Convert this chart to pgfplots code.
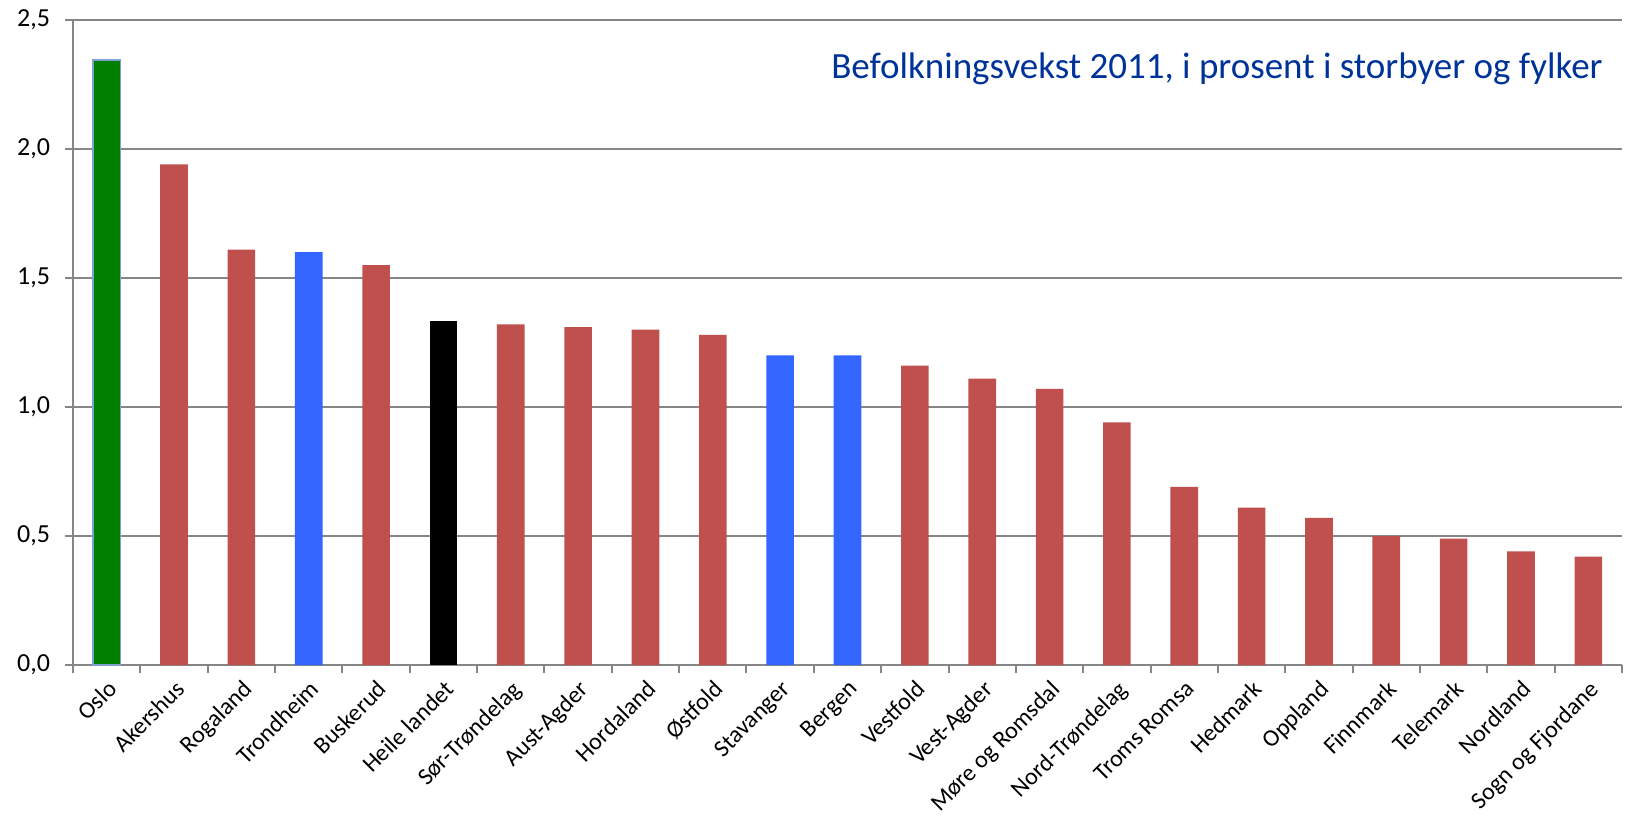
\documentclass[border=0pt]{standalone}
\usepackage{fontspec}
\setmainfont{Carlito}
\usepackage{pgfplots}
\pgfplotsset{compat=1.18}
\usetikzlibrary{calc}
\definecolor{barred}{RGB}{192,80,77}
\definecolor{barblue}{RGB}{51,102,255}
\definecolor{bargreen}{RGB}{0,128,0}
\definecolor{oslorim}{RGB}{127,160,210}
\definecolor{gridgray}{RGB}{134,134,134}
\definecolor{titleblue}{RGB}{0,51,153}

\begin{document}
\begin{tikzpicture}
\begin{axis}[
    name=ax, at={(0,0)}, anchor=south west,
    width=774.5pt, height=322.5pt, scale only axis,
    xmin=-0.5, xmax=22.5, ymin=0, ymax=2.5,
    axis lines*=left,
    axis line style={draw=gridgray, line width=1pt},
    ymajorgrids, grid style={draw=gridgray, line width=1pt},
    ytick={0,0.5,1,1.5,2,2.5},
    xtick={0,...,22},
    xticklabels={Oslo, Akershus, Rogaland, Trondheim, Buskerud, Heile landet,
      Sør-Trøndelag, Aust-Agder, Hordaland, Østfold, Stavanger, Bergen,
      Vestfold, Vest-Agder, Møre og Romsdal, Nord-Trøndelag, Troms Romsa,
      Hedmark, Oppland, Finnmark, Telemark, Nordland, Sogn og Fjordane},
    minor xtick={-0.5,0.5,...,22.5},
    major x tick style={draw=none},
    tick align=outside,
    major tick length=4pt, minor tick length=4pt,
    tick style={draw=gridgray, line width=1pt},
    /pgf/number format/assume math mode=true,
    yticklabel style={/pgf/number format/.cd, fixed, fixed zerofill, precision=1, use comma,
      /tikz/.cd, font=\fontsize{13}{15}\selectfont, xshift=-4pt},
    xticklabel style={font=\fontsize{12}{14}\selectfont, rotate=45, anchor=north east, inner sep=2pt},
    clip=false,
]
% red: counties
\addplot[ybar, bar width=0.41, bar shift=0pt, fill=barred, draw=none] coordinates {
  (1,1.94) (2,1.61) (4,1.55) (6,1.32) (7,1.31) (8,1.30) (9,1.28)
  (12,1.16) (13,1.11) (14,1.07) (15,0.94) (16,0.69) (17,0.61) (18,0.57)
  (19,0.50) (20,0.49) (21,0.44) (22,0.42)
};
% blue: cities
\addplot[ybar, bar width=0.41, bar shift=0pt, fill=barblue, draw=none] coordinates {
  (3,1.60) (10,1.20) (11,1.20)
};
% green: Oslo
\addplot[ybar, bar width=0.41, bar shift=0pt, fill=bargreen, draw=oslorim, line width=0.8pt] coordinates {
  (0,2.345)
};
% black: whole country
\addplot[ybar, bar width=0.41, bar shift=0pt, fill=black, draw=none] coordinates {
  (5,1.335)
};
\node[anchor=east, text=titleblue, font=\fontsize{18.5}{22}\selectfont]
  at (rel axis cs:0.992,0.925) {Befolkningsvekst 2011, i prosent i storbyer og fylker};
\end{axis}
\pgfresetboundingbox
\path ($(ax.south west)+(-36.5pt,-77pt)$) rectangle ($(ax.north east)+(4.5pt,10pt)$);
\end{tikzpicture}
\end{document}
